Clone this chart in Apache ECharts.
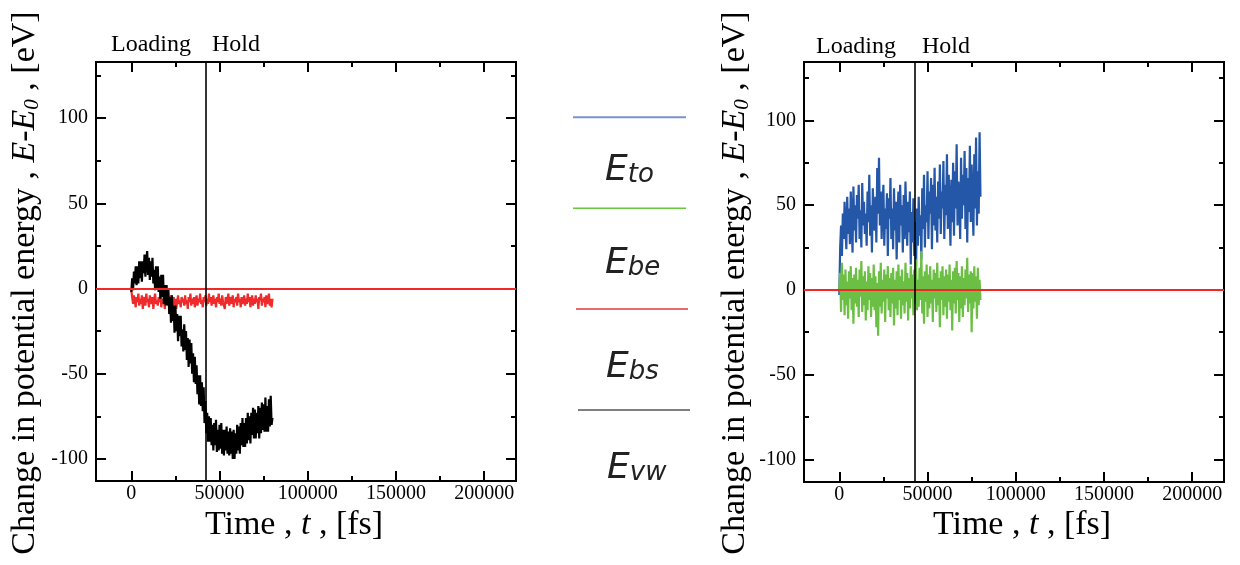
<!DOCTYPE html>
<html><head><meta charset="utf-8">
<script src="https://cdn.jsdelivr.net/npm/echarts@6/dist/echarts.min.js"></script>
<style>html,body{margin:0;padding:0;background:#fff}#c{width:1240px;height:565px}</style>
</head><body><div id="c"></div>
<script>
// ---- data ----
const TIME = [0,500,1000,1500,2000,2500,3000,3500,4000,4500,
  5000,5500,6000,6500,7000,7500,8000,8500,9000,9500,
  10000,10500,11000,11500,12000,12500,13000,13500,14000,14500,
  15000,15500,16000,16500,17000,17500,18000,18500,19000,19500,
  20000,20500,21000,21500,22000,22500,23000,23500,24000,24500,
  25000,25500,26000,26500,27000,27500,28000,28500,29000,29500,
  30000,30500,31000,31500,32000,32500,33000,33500,34000,34500,
  35000,35500,36000,36500,37000,37500,38000,38500,39000,39500,
  40000,40500,41000,41500,42000,42500,43000,43500,44000,44500,
  45000,45500,46000,46500,47000,47500,48000,48500,49000,49500,
  50000,50500,51000,51500,52000,52500,53000,53500,54000,54500,
  55000,55500,56000,56500,57000,57500,58000,58500,59000,59500,
  60000,60500,61000,61500,62000,62500,63000,63500,64000,64500,
  65000,65500,66000,66500,67000,67500,68000,68500,69000,69500,
  70000,70500,71000,71500,72000,72500,73000,73500,74000,74500,
  75000,75500,76000,76500,77000,77500,78000,78500,79000,79500,
  80000];

// left panel
const E_VW_LEFT = [-2,6,-1,10,3,13,2,13,3,16,
  6,16,4,16,9,20,7,17,22,8,
  18,5,16,7,18,3,11,-1,13,0,
  13,-2,7,-6,8,-5,8,-9,2,-10,
  2,-10,0,-15,-5,-20,-4,-19,-10,-26,
  -10,-25,-15,-31,-16,-28,-16,-34,-24,-37,
  -21,-36,-25,-42,-29,-46,-30,-44,-32,-50,
  -38,-55,-40,-56,-45,-62,-51,-68,-51,-69,
  -55,-72,-58,-79,-66,-85,-73,-90,-75,-90,
  -76,-92,-80,-95,-79,-92,-77,-96,-83,-95,
  -80,-94,-79,-97,-83,-98,-83,-95,-81,-97,
  -84,-98,-82,-97,-84,-100,-83,-100,-85,-97,
  -80,-95,-81,-97,-79,-92,-76,-93,-79,-93,
  -76,-91,-73,-89,-75,-91,-73,-86,-70,-88,
  -71,-88,-73,-85,-69,-88,-70,-85,-67,-83,
  -68,-84,-64,-84,-69,-84,-65,-81,-63,-80,
  -76];
const E_BS_LEFT = [-1,-5,-9,-4,-7,-11,-5,-8,-3,-10,
  -6,-9,-4,-12,-7,-5,-10,-3,-8,-6,
  -11,-4,-7,-9,-5,-12,-6,-3,-9,-7,
  -10,-5,-8,-4,-11,-6,-9,-7,-12,-5,
  -8,-3,-10,-6,-9,-4,-11,-7,-5,-10,
  -6,-12,-8,-4,-9,-7,-11,-5,-8,-6,
  -10,-4,-9,-7,-12,-5,-8,-3,-10,-6,
  -9,-5,-11,-7,-4,-10,-6,-8,-3,-9,
  -7,-11,-5,-8,-4,-10,-6,-9,-3,-8,
  -5,-10,-7,-4,-9,-6,-11,-5,-8,-3,
  -9,-6,-10,-4,-8,-7,-12,-5,-9,-6,
  -3,-10,-7,-5,-9,-4,-11,-6,-8,-5,
  -10,-3,-8,-6,-11,-5,-9,-7,-4,-10,
  -6,-9,-3,-8,-5,-11,-7,-4,-10,-6,
  -9,-4,-8,-6,-12,-5,-7,-3,-10,-6,
  -8,-5,-11,-4,-9,-7,-3,-10,-6,-11,
  -6];

// right panel
const E_TO_RIGHT = [-3,25,38,20,45,30,52,36,24,55,
  33,48,27,58,40,22,61,35,50,28,
  56,42,62,30,47,25,63,38,52,33,
  45,26,58,40,68,32,50,22,60,44,
  35,55,28,72,45,78,38,58,30,50,
  62,26,48,36,57,20,54,42,66,30,
  48,24,60,35,52,18,45,58,28,62,
  38,50,22,56,30,64,42,26,52,34,
  58,15,46,28,54,20,40,14,48,26,
  55,32,44,18,60,36,68,25,50,40,
  70,30,58,45,66,24,62,38,72,35,
  55,28,64,42,74,33,58,48,76,30,
  62,44,80,36,68,50,26,65,40,75,
  32,70,48,86,38,64,55,30,78,42,
  68,50,82,36,72,28,66,46,85,40,
  74,52,32,80,48,90,38,70,45,93,
  55];
const E_BE_RIGHT = [0,10,-13,16,-6,9,-15,12,-9,5,
  -17,11,-5,14,-12,7,-20,9,-8,13,
  -10,6,-16,12,-4,17,-13,8,-9,11,
  -18,5,-12,14,-6,10,-16,7,-10,15,
  -12,8,-22,4,-27,11,-10,16,-14,6,
  -7,12,-19,9,-5,14,-12,7,-16,10,
  -8,13,-21,6,-11,11,-15,15,-6,8,
  -17,12,-9,5,-14,16,-7,10,-18,7,
  -11,14,-5,9,-15,12,-8,18,-12,6,
  -10,13,-6,23,-14,8,-20,11,-7,15,
  -16,9,-11,14,-8,6,-19,12,-5,10,
  -13,16,-9,7,-22,11,-6,14,-15,8,
  -10,12,-17,9,-7,15,-12,6,-24,11,
  -8,13,-14,17,-6,10,-19,8,-11,14,
  -16,7,-9,12,-5,19,-13,9,-8,11,
  -25,10,-11,14,-7,8,-17,13,-9,6,
  -6];

const HOLD_LEFT = 42000;
const HOLD_RIGHT = 42700;

const X_MAJOR = [0,50000,100000,150000,200000];
const X_MINOR = [25000,75000,125000,175000];
const Y_MAJOR = [-100,-50,0,50,100];
const Y_MINOR = [-75,-25,25,75,125];

const LEGEND_SUBS = ['to','be','bs','vw'];
const LEGEND_COLORS = ['#7893cc','#66c83e','#e86a6a','#555555'];
const PHASES = ['Loading','Hold'];

// ---- chart ----
const SERIF = '"Liberation Serif","Times New Roman",serif';
const XMIN = -20000, XMAX = 218000;

function ax(g, dim, min, max, pos, ticks, len, labels) {
  return {
    gridIndex: g, type: 'value', min: min, max: max, position: pos,
    axisLine: {show: true, onZero: false, lineStyle: {color: '#000', width: 2}},
    axisTick: {show: true, inside: true, length: len, customValues: ticks, lineStyle: {color: '#000', width: 2}},
    axisLabel: labels ? {show: true, customValues: ticks, formatter: v => String(v), color: '#000',
      fontFamily: SERIF, fontSize: 20, margin: dim === 'x' ? 3 : 8} : {show: false},
    splitLine: {show: false}, minorTick: {show: false}, minorSplitLine: {show: false}
  };
}
function xAxes(g) {
  return [ax(g,'x',XMIN,XMAX,'bottom',X_MAJOR,10,true), ax(g,'x',XMIN,XMAX,'bottom',X_MINOR,5,false),
          ax(g,'x',XMIN,XMAX,'top',X_MAJOR,10,false), ax(g,'x',XMIN,XMAX,'top',X_MINOR,5,false)];
}
function yAxes(g, mn, mx) {
  return [ax(g,'y',mn,mx,'left',Y_MAJOR,10,true), ax(g,'y',mn,mx,'left',Y_MINOR,5,false),
          ax(g,'y',mn,mx,'right',Y_MAJOR,10,false), ax(g,'y',mn,mx,'right',Y_MINOR,5,false)];
}
function pairs(arr) { return TIME.map((t, i) => [t, arr[i]]); }
function markLines(hold) {
  return {
    silent: true, symbol: ['none','none'], label: {show: false}, animation: false,
    emphasis: {disabled: true},
    data: [
      {yAxis: 0, lineStyle: {color: '#f02828', width: 1.8, type: 'solid'}},
      {xAxis: hold, lineStyle: {color: '#000', width: 1.6, type: 'solid'}}
    ]
  };
}

const graphics = [];
function yTitle(x) {
  graphics.push({type: 'text', x: x, y: 283, rotation: Math.PI / 2, silent: true,
    style: {text: '{a|Change in potential energy , }{i|E-E}{s|0}{a| , [eV]}',
      align: 'center', verticalAlign: 'middle', fill: '#000',
      rich: {a: {fontFamily: SERIF, fontSize: 34, lineHeight: 36, fill: '#000'},
             i: {fontFamily: SERIF, fontSize: 34, lineHeight: 36, fontStyle: 'italic', fill: '#000'},
             s: {fontFamily: SERIF, fontSize: 21, lineHeight: 21, fontStyle: 'italic', verticalAlign: 'bottom', fill: '#000'}}}});
}
function xTitle(cx) {
  graphics.push({type: 'text', x: cx, y: 525, silent: true,
    style: {text: '{a|Time , }{i|t}{a| , [fs]}', align: 'center', verticalAlign: 'middle', fill: '#000',
      rich: {a: {fontFamily: SERIF, fontSize: 34, fill: '#000'},
             i: {fontFamily: SERIF, fontSize: 34, fontStyle: 'italic', fill: '#000'}}}});
}
function phase(cx, cy, txt) {
  graphics.push({type: 'text', x: cx, y: cy, silent: true,
    style: {text: txt, font: '24px ' + SERIF, fill: '#000', align: 'center', verticalAlign: 'middle'}});
}
yTitle(25); yTitle(735);
xTitle(294); xTitle(1022);
phase(151, 45, PHASES[0]); phase(236, 45, PHASES[1]);
phase(856, 47, PHASES[0]); phase(946, 47, PHASES[1]);

const legLines = [[573,686,117.3],[573,686,208.3],[576,688,309],[578,690,410]];
const legText = [[605,180],[605,273],[606,377],[607,478]];
const legW = [2,1.6,2,1.6];
LEGEND_SUBS.forEach((s, i) => {
  graphics.push({type: 'line', silent: true,
    shape: {x1: legLines[i][0], y1: legLines[i][2], x2: legLines[i][1], y2: legLines[i][2]},
    style: {stroke: LEGEND_COLORS[i], lineWidth: legW[i]}});
  graphics.push({type: 'text', x: legText[i][0], y: legText[i][1] + 8.5, silent: true,
    style: {text: '{e|E}{s|' + s + '}', align: 'left', verticalAlign: 'bottom', fill: '#222',
      rich: {e: {fontFamily: '"DejaVu Sans",sans-serif', fontStyle: 'italic', fontSize: 36, lineHeight: 36, verticalAlign: 'bottom', fill: '#222'},
             s: {fontFamily: '"DejaVu Sans",sans-serif', fontStyle: 'italic', fontSize: 26, lineHeight: 26, verticalAlign: 'bottom', fill: '#222'}}}});
});

const chart = echarts.init(document.getElementById('c'), null, {renderer: 'canvas'});
chart.setOption({
  animation: false,
  backgroundColor: '#fff',
  grid: [
    {left: 96, top: 62, width: 420, height: 419, containLabel: false, outerBoundsMode: 'none'},
    {left: 804, top: 62, width: 420, height: 420, containLabel: false, outerBoundsMode: 'none'}
  ],
  xAxis: xAxes(0).concat(xAxes(1)),
  yAxis: yAxes(0, -113, 133).concat(yAxes(1, -113.4, 134.5)),
  series: [
    {type: 'line', name: 'E_bs', xAxisIndex: 0, yAxisIndex: 0, data: pairs(E_BS_LEFT), showSymbol: false, symbol: 'none',
      lineStyle: {color: '#ee2a2a', width: 2.2}, z: 2},
    {type: 'line', name: 'E_vw', xAxisIndex: 0, yAxisIndex: 0, data: pairs(E_VW_LEFT), showSymbol: false, symbol: 'none',
      lineStyle: {color: '#000', width: 2.2}, z: 3, markLine: markLines(HOLD_LEFT)},
    {type: 'line', name: 'E_to', xAxisIndex: 4, yAxisIndex: 4, data: pairs(E_TO_RIGHT), showSymbol: false, symbol: 'none',
      lineStyle: {color: '#2457a8', width: 2.2}, z: 2},
    {type: 'line', name: 'E_be', xAxisIndex: 4, yAxisIndex: 4, data: pairs(E_BE_RIGHT), showSymbol: false, symbol: 'none',
      lineStyle: {color: '#6cbf45', width: 2.2}, z: 3, markLine: markLines(HOLD_RIGHT)}
  ],
  graphic: graphics
});
</script>
</body></html>
